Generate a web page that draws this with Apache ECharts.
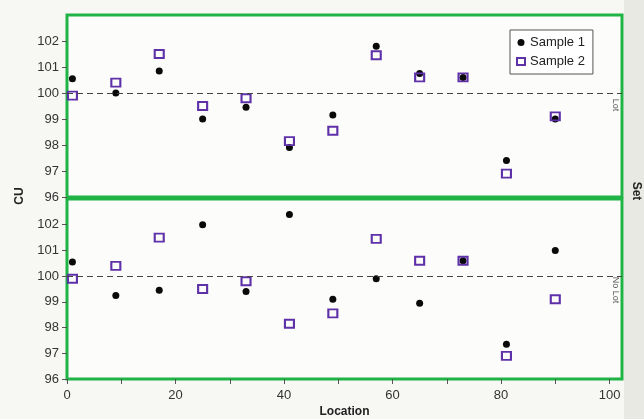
<!DOCTYPE html>
<html>
<head>
<meta charset="utf-8">
<script src="https://cdn.jsdelivr.net/npm/echarts@6/dist/echarts.min.js"></script>
<style>
  html, body { margin: 0; padding: 0; background: #f7f7f4; }
  #chart { width: 644px; height: 419px; }
</style>
</head>
<body>
<div id="chart"></div>
<script>
// Measurement locations along the part
const locations = [1, 9, 17, 25, 33, 41, 49, 57, 65, 73, 81, 90];

// Content uniformity (CU) per location, "Lot" set
const lotSample1 = [100.55, 100.0, 100.85, 99.0, 99.45, 97.9, 99.15, 101.8, 100.75, 100.6, 97.4, 99.0];
const lotSample2 = [99.9, 100.4, 101.5, 99.5, 99.8, 98.15, 98.55, 101.45, 100.6, 100.6, 96.9, 99.1];

// Content uniformity (CU) per location, "No Lot" set
const noLotSample1 = [100.55, 99.25, 99.45, 102.0, 99.4, 102.4, 99.1, 99.9, 98.95, 100.6, 97.35, 101.0];
const noLotSample2 = [99.9, 100.4, 101.5, 99.5, 99.8, 98.15, 98.55, 101.45, 100.6, 100.6, 96.9, 99.1];

// Axis ticks
const yTicks = [96, 97, 98, 99, 100, 101, 102];
const xTickMarks = [0, 10, 20, 30, 40, 50, 60, 70, 80, 90, 100];
const xTickLabels = [0, 20, 40, 60, 80, 100];

const targetCU = 100;
const setNames = ['Lot', 'No Lot'];

const FONT = 'Liberation Sans, Arial, sans-serif';
const GREEN = '#1fb445';
const PURPLE = '#5f31a8';

const pairs = (xs, ys) => xs.map((x, i) => [x, ys[i]]);

const refLine = {
  silent: true,
  symbol: 'none',
  label: { show: false },
  lineStyle: { color: '#444', type: [6, 4], width: 1 },
  data: [{ yAxis: targetCU }]
};

function sample1(name, data, idx) {
  return {
    name, type: 'scatter', xAxisIndex: idx, yAxisIndex: idx,
    data, symbol: 'circle', symbolSize: 7, z: 3,
    itemStyle: { color: '#0a0a0a', opacity: 1 },
    markLine: refLine
  };
}
function sample2(name, data, idx) {
  return {
    name, type: 'scatter', xAxisIndex: idx, yAxisIndex: idx,
    data, symbol: 'rect', symbolSize: [9, 8], z: 4,
    itemStyle: { color: 'rgba(0,0,0,0)', borderColor: PURPLE, borderWidth: 2, opacity: 1 }
  };
}

function yAxisFor(idx) {
  return {
    type: 'value', gridIndex: idx, min: 96, max: 103,
    axisLine: { show: false },
    splitLine: { show: false },
    axisTick: { show: true, length: 5, inside: false, customValues: yTicks, lineStyle: { color: '#555' } },
    axisLabel: { customValues: yTicks, margin: 8, color: '#333', fontSize: 13, fontFamily: FONT }
  };
}

const chart = echarts.init(document.getElementById('chart'), null, { renderer: 'canvas' });

chart.setOption({
  backgroundColor: '#f7f7f4',
  animation: false,
  grid: [
    { left: 67, right: 22, top: 15, height: 182, show: true, backgroundColor: '#fcfcfb',
      borderColor: GREEN, borderWidth: 3 },
    { left: 67, right: 22, top: 199, height: 182, show: true, backgroundColor: '#fcfcfb',
      borderColor: GREEN, borderWidth: 3 }
  ],
  xAxis: [
    { type: 'value', gridIndex: 0, min: 0, max: 102.3,
      axisLine: { show: false }, axisTick: { show: false },
      axisLabel: { show: false }, splitLine: { show: false } },
    { type: 'value', gridIndex: 1, min: 0, max: 102.3,
      name: 'Location', nameLocation: 'middle', nameGap: 27,
      nameTextStyle: { fontFamily: FONT, fontSize: 12, fontWeight: 'bold', color: '#222' },
      axisLine: { show: false },
      splitLine: { show: false },
      axisTick: { show: true, length: 5, customValues: xTickMarks, lineStyle: { color: '#555' } },
      axisLabel: { customValues: xTickLabels, margin: 10, color: '#333', fontSize: 13, fontFamily: FONT } }
  ],
  yAxis: [yAxisFor(0), yAxisFor(1)],
  legend: {
    left: 510, top: 30, orient: 'vertical',
    backgroundColor: '#fff', borderColor: '#555', borderWidth: 1, borderRadius: 0,
    padding: [6, 8, 6, 6], itemGap: 6, itemWidth: 8, itemHeight: 7,
    textStyle: { fontFamily: FONT, fontSize: 13, color: '#222' },
    data: [
      { name: 'Sample 1', icon: 'circle' },
      { name: 'Sample 2', icon: 'rect' }
    ]
  },
  series: [
    sample1('Sample 1', pairs(locations, lotSample1), 0),
    sample2('Sample 2', pairs(locations, lotSample2), 0),
    sample1('Sample 1', pairs(locations, noLotSample1), 1),
    sample2('Sample 2', pairs(locations, noLotSample2), 1)
  ],
  graphic: [
    { type: 'rect', right: 0, top: 0, shape: { width: 20, height: 419 },
      style: { fill: '#e9e9e3' }, z: -1, silent: true },
    { type: 'text', x: 20, y: 196, rotation: Math.PI / 2,
      style: { text: 'CU', fontFamily: FONT, fontSize: 12, fontWeight: 'bold', fill: '#222',
        align: 'center', verticalAlign: 'middle' } },
    { type: 'text', x: 636, y: 191, rotation: -Math.PI / 2,
      style: { text: 'Set', fontFamily: FONT, fontSize: 12, fontWeight: 'bold', fill: '#222',
        align: 'center', verticalAlign: 'middle' } },
    { type: 'text', x: 615, y: 105, rotation: -Math.PI / 2,
      style: { text: setNames[0], fontFamily: FONT, fontSize: 9, fill: '#555',
        align: 'center', verticalAlign: 'middle' } },
    { type: 'text', x: 615, y: 290, rotation: -Math.PI / 2,
      style: { text: setNames[1], fontFamily: FONT, fontSize: 9, fill: '#555',
        align: 'center', verticalAlign: 'middle' } }
  ]
});
</script>
</body>
</html>
